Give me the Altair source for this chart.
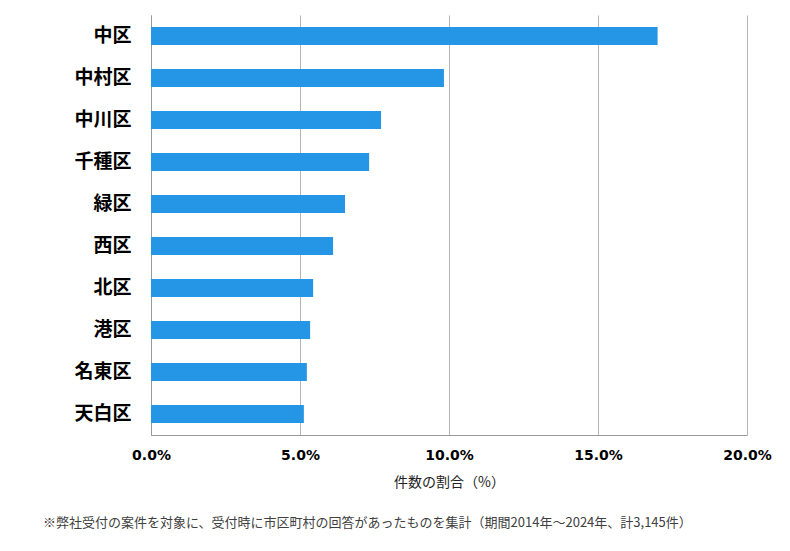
import altair as alt
import pandas as pd

wards = ["中区", "中村区", "中川区", "千種区", "緑区", "西区", "北区", "港区", "名東区", "天白区"]
shares = [17.0, 9.83, 7.72, 7.32, 6.51, 6.11, 5.44, 5.34, 5.23, 5.13]
x_ticks = [0, 5, 10, 15, 20]
x_title = "件数の割合（%）"
footnote = "※弊社受付の案件を対象に、受付時に市区町村の回答があったものを集計（期間2014年～2024年、計3,145件）"

df = pd.DataFrame({"ward": wards, "share": shares})

bars = alt.Chart(df).mark_bar(color="#2595e5").encode(
    x=alt.X("share:Q",
            scale=alt.Scale(domain=[0, 20], nice=False, zero=True),
            axis=alt.Axis(values=x_ticks, labelExpr="format(datum.value, '.1f') + '%'",
                          title=x_title, grid=True, gridColor="#b4b4b4", domainColor="#999999",
                          ticks=False, labelFlush=False, labelOverlap=False,
                          labelFont="DejaVu Sans", labelFontWeight="bold",
                          labelFontSize=14, labelColor="#000000", labelPadding=13,
                          titleFont="Noto Sans CJK JP", titleFontWeight="normal",
                          titleFontSize=14, titleColor="#222222", titlePadding=13)),
    y=alt.Y("ward:N", sort=wards,
            scale=alt.Scale(paddingInner=0.57, paddingOuter=0.285),
            axis=alt.Axis(title=None, ticks=False, domainColor="#999999",
                          labelFont="Noto Sans CJK JP", labelFontWeight="bold",
                          labelFontSize=19, labelColor="#000000", labelPadding=20)),
)

note = alt.Chart(pd.DataFrame({"t": [footnote]})).mark_text(
    align="left", baseline="middle", font="Noto Sans CJK JP", fontSize=13, color="#404040"
).encode(text="t:N", x=alt.value(-108), y=alt.value(508))

chart = alt.layer(bars, note).properties(
    width=596, height=420,
    padding={"left": 143, "top": 7, "right": 35, "bottom": 108},
    autosize=alt.AutoSizeParams(type="none"),
    background="white",
).configure_view(stroke=None)

chart.save("out.html", embed_options={"renderer": "svg", "actions": False})
